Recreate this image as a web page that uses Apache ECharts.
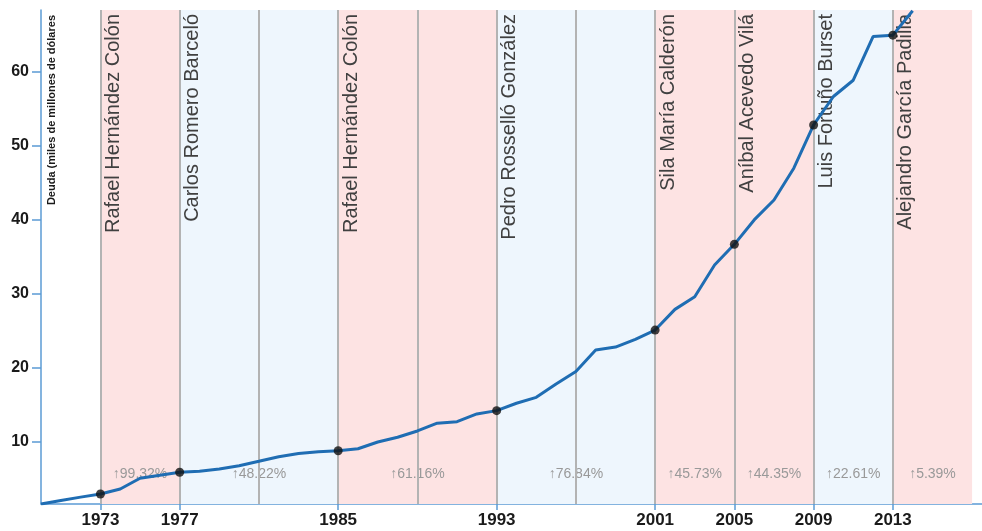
<!DOCTYPE html>
<html>
<head>
<meta charset="utf-8">
<script src="https://cdn.jsdelivr.net/npm/echarts@6/dist/echarts.min.js"></script>
<style>
  html, body { margin: 0; padding: 0; background: #ffffff; }
  #chart { width: 982px; height: 531px; }
</style>
</head>
<body>
<div id="chart"></div>
<script>
// ---- Data ----
const years = [1970,1971,1972,1973,1974,1975,1976,1977,1978,1979,1980,1981,1982,1983,1984,1985,1986,1987,1988,1989,1990,1991,1992,1993,1994,1995,1996,1997,1998,1999,2000,2001,2002,2003,2004,2005,2006,2007,2008,2009,2010,2011,2012,2013,2014];
const debt = [1.57,2.05,2.5,2.92,3.6,5.05,5.45,5.86,6.0,6.3,6.75,7.35,7.97,8.4,8.65,8.78,9.05,9.96,10.6,11.45,12.5,12.7,13.75,14.2,15.2,16.0,17.8,19.5,22.4,22.8,23.85,25.1,27.9,29.6,33.9,36.7,40.0,42.7,47.0,52.85,56.7,58.9,64.8,65.0,68.3];
const termStart = [1973,1977,1985,1993,2001,2005,2009,2013];
const termEnd = [1977,1985,1993,2001,2005,2009,2013,2017];
const governors = ['Rafael Hernández Colón','Carlos Romero Barceló','Rafael Hernández Colón','Pedro Rosselló González','Sila María Calderón','Aníbal Acevedo Vilá','Luis Fortuño Burset','Alejandro García Padilla'];
const parties = ['PPD','PNP','PPD','PNP','PPD','PPD','PNP','PPD'];
const changes = ['99.32%','48.22%','61.16%','76.84%','45.73%','44.35%','22.61%','5.39%'];
const electionYears = [1973,1977,1981,1985,1989,1993,1997,2001,2005,2009,2013];
const xTicks = [1973,1977,1985,1993,2001,2005,2009,2013];
const yTicks = [10,20,30,40,50,60];
const yAxisTitle = 'Deuda (miles de millones de dólares';

// ---- Styles ----
const FONT = '"Liberation Sans", Arial, sans-serif';
const partyColor = { PPD: '#fde3e3', PNP: '#eef6fd' };
const xMin = 1970, xMax = 2017.5, yMin = 1.57, yMax = 68.4;

const lineData = years.map((y, i) => [y, debt[i]]);
const dotData = termStart.map(y => [y, debt[years.indexOf(y)]]);
const termData = termStart.map((s, i) => [s, termEnd[i], yMin]);

const chart = echarts.init(document.getElementById('chart'), null, { renderer: 'canvas' });
chart.setOption({
  animation: false,
  backgroundColor: '#ffffff',
  grid: { left: 41, right: 0, top: 10, bottom: 27, containLabel: false },
  xAxis: {
    type: 'value', min: xMin, max: xMax,
    axisLine: { show: true, lineStyle: { color: '#5b9bd5', width: 1.5 } },
    axisTick: { show: true, customValues: xTicks, length: 6, lineStyle: { color: '#5b9bd5', width: 1.5 } },
    axisLabel: { show: true, customValues: xTicks, margin: 8, color: '#1a1a1a', fontWeight: 'bold', fontSize: 17, fontFamily: FONT, formatter: v => String(v) },
    splitLine: { show: false }
  },
  yAxis: {
    type: 'value', min: yMin, max: yMax,
    axisLine: { show: true, lineStyle: { color: '#5b9bd5', width: 1.5 } },
    axisTick: { show: true, customValues: yTicks, length: 9, lineStyle: { color: '#5b9bd5', width: 1.5 } },
    axisLabel: { show: true, customValues: yTicks, margin: 12, color: '#1a1a1a', fontWeight: 'bold', fontSize: 16, fontFamily: FONT },
    splitLine: { show: false }
  },
  graphic: [{
    type: 'text', x: 52, y: 15, rotation: Math.PI / 2, z: 100,
    style: { text: yAxisTitle, fill: '#1a1a1a', fontSize: 11, fontWeight: 'bold', fontFamily: FONT, align: 'right', verticalAlign: 'middle' }
  }],
  series: [
    {
      type: 'custom', z: 1, silent: true,
      data: termData,
      encode: { x: [0, 1], y: 2 },
      renderItem: function (params, api) {
        const i = params.dataIndex;
        const s = api.value(0), e = api.value(1);
        const p0 = api.coord([s, yMax]);
        const p1 = api.coord([e, yMin]);
        return {
          type: 'group',
          children: [
            { type: 'rect', shape: { x: p0[0], y: p0[1], width: p1[0] - p0[0], height: p1[1] - p0[1] }, style: { fill: partyColor[parties[i]] } },
            { type: 'text', x: p0[0] + 3, y: p0[1] + 4, rotation: Math.PI / 2,
              style: { text: governors[i], fill: '#404040', fontSize: 20, fontFamily: FONT, align: 'right', verticalAlign: 'top' } },
            { type: 'text', x: (p0[0] + p1[0]) / 2, y: p1[1] - 30,
              style: { text: '↑' + changes[i], fill: '#999999', fontSize: 14, fontFamily: FONT, align: 'center', verticalAlign: 'middle' } }
          ]
        };
      }
    },
    {
      type: 'line', z: 5,
      data: lineData,
      showSymbol: false, symbol: 'none',
      lineStyle: { color: '#1f6db3', width: 3 },
      markLine: {
        silent: true, symbol: ['none', 'none'], z: 3,
        label: { show: false },
        lineStyle: { color: '#b3b3b3', width: 2, type: 'solid' },
        data: electionYears.map(y => ({ xAxis: y }))
      }
    },
    {
      type: 'scatter', z: 6,
      data: dotData,
      symbol: 'circle', symbolSize: 9,
      itemStyle: { color: '#111111' }
    }
  ]
});
</script>
</body>
</html>
